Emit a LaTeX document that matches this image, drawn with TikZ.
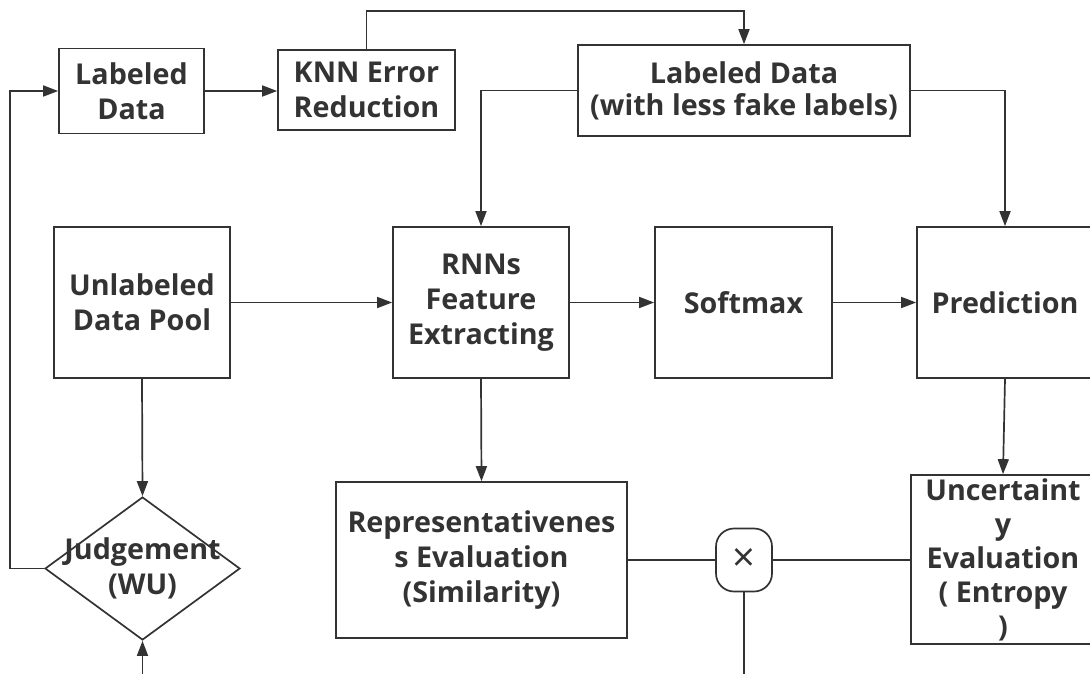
\documentclass[tikz,border=0pt]{standalone}
\usepackage{fontspec}
\setmainfont{Open Sans}
\usetikzlibrary{arrows.meta,shapes.geometric}
\definecolor{ink}{HTML}{333333}
\begin{document}
\begin{tikzpicture}[x=1pt,y=-1pt,
  box/.style={draw=ink, line width=1.7pt, fill=white, text=ink,
    font=\bfseries\fontsize{28.7}{35}\selectfont, align=center, inner sep=0pt},
  conn/.style={draw=ink, line width=1.7pt},
  arr/.style={conn, -{Triangle[length=15pt,width=11pt]}}]
\useasboundingbox (0,0) rectangle (1090,673);
% nodes
\node[box, minimum width=145pt, minimum height=85pt] (lab) at (131.5,91) {Labeled\\Data};
\node[box, minimum width=177pt, minimum height=80pt] (knn) at (366.5,90) {KNN Error\\Reduction};
\node[box, minimum width=332pt, minimum height=91pt, font=\bfseries\fontsize{28.7}{32}\selectfont] (lless) at (744,90.5) {Labeled Data\\(with less fake labels)};
\node[box, minimum width=176pt, minimum height=151pt] (unl) at (142,302.5) {Unlabeled\\Data Pool};
\node[box, minimum width=176pt, minimum height=151pt] (rnn) at (481,302.5) {RNNs\\Feature\\Extracting};
\node[box, minimum width=177pt, minimum height=151pt] (soft) at (743.5,302.5) {Softmax};
\node[box, minimum width=176pt, minimum height=151pt] (pred) at (1005,302.5) {Prediction};
\node[box, shape=diamond, minimum width=195pt, minimum height=143pt, fill=none,
  label={[text=ink, font=\bfseries\fontsize{28.7}{35}\selectfont, align=center]center:Judgement\\(WU)}] (judge) at (142.5,568.5) {};
\node[box, minimum width=291pt, minimum height=156pt] (rep) at (481.5,560) {Representativenes\\s Evaluation\\(Similarity)};
\node[box, minimum width=56pt, minimum height=63pt, rounded corners=18pt, font=\fontsize{40}{40}\selectfont] (mult) at (744,560) {×};
\node[box, minimum width=184pt, minimum height=169pt, font=\bfseries\fontsize{28.7}{34}\selectfont] (unc) at (1003,559.5) {Uncertaint\\y\\Evaluation\\( Entropy\\)};
\coordinate (jin) at (142.5,690);
\coordinate (mout) at (744,690);
% connectors
\draw[arr] (judge.west) -| (10,91) -- (lab.west);
\draw[arr] (lab.east) -- (knn.west |- lab.east);
\draw[arr] (knn.north) |- (744,11) -- (lless.north);
\draw[arr] (lless.west) -| (rnn.north);
\draw[arr] (lless.east) -| (pred.north);
\draw[arr] (unl.east) -- (rnn.west);
\draw[arr] (rnn.east) -- (soft.west);
\draw[arr] (soft.east) -- (pred.west);
\draw[arr] (unl.south) -- (judge.north);
\draw[arr] (rnn.south) -- (rep.north);
\draw[arr] (pred.south) -- (unc.north);
\draw[conn] (rep.east) -- (mult.west);
\draw[conn] (mult.east) -- (unc.west |- mult.east);
\draw[conn] (mult.south) -- (mout);
\draw[arr] (jin) -- (judge.south);
\end{tikzpicture}
\end{document}
